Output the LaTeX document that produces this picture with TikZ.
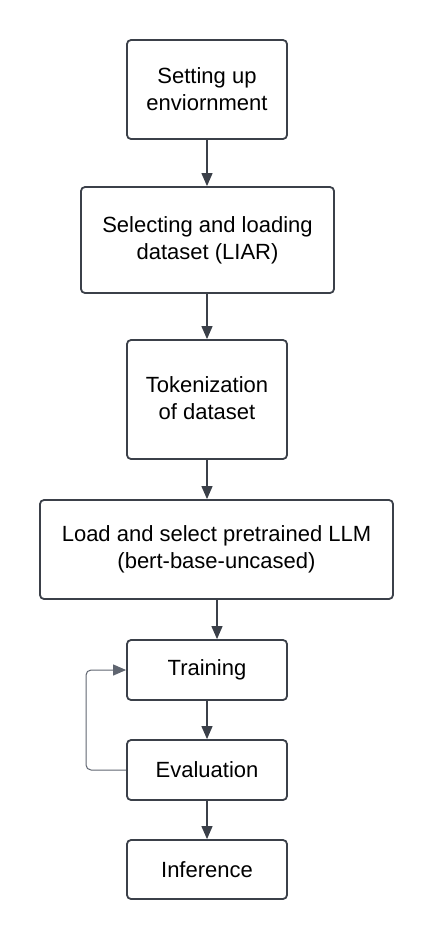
\documentclass[tikz,border=0pt]{standalone}
\usepackage{fontspec}
\setmainfont{Liberation Sans}
\usetikzlibrary{arrows.meta,calc}
\definecolor{edge}{HTML}{3B4049}
\definecolor{loopc}{HTML}{5F6570}
\begin{document}
\begin{tikzpicture}[x=1pt,y=-1pt,
  stepbox/.style={draw=edge,line width=1.8pt,rounded corners=4pt,fill=white,
    align=center,inner sep=0pt,font=\fontsize{22}{27}\selectfont,text=black},
  flow/.style={draw=edge,line width=1.2pt,-{Triangle[length=13pt,width=11pt]}},
  loopline/.style={draw=loopc,line width=1pt,rounded corners=5pt,-{Triangle[length=13pt,width=11pt]}}]
\useasboundingbox (0,0) rectangle (433,940);
\node[stepbox,minimum width=160pt,minimum height=99pt] (b1) at (207,89.5) {Setting up\\enviornment};
\node[stepbox,minimum width=253pt,minimum height=106pt] (b2) at (207.5,240) {Selecting and loading\\dataset (LIAR)};
\node[stepbox,minimum width=160pt,minimum height=119pt] (b3) at (207,399.5) {\raisebox{3pt}{Tokenization}\\\raisebox{3pt}{of dataset}};
\node[stepbox,minimum width=353pt,minimum height=99pt] (b4) at (216.5,549.5) {Load and select pretrained LLM\\(bert-base-uncased)};
\node[stepbox,minimum width=160pt,minimum height=60pt] (b5) at (207,670) {Training};
\node[stepbox,minimum width=160pt,minimum height=60pt] (b6) at (207,770) {Evaluation};
\node[stepbox,minimum width=160pt,minimum height=59pt] (b7) at (207,869.5) {Inference};
\coordinate (a4) at (217,0);
\draw[flow] (b1.south) -- (b2.north -| b1.south);
\draw[flow] (b2.south -| b1.south) -- (b3.north);
\draw[flow] (b3.south) -- (b4.north -| b3.south);
\draw[flow] (b4.south -| a4) -- (b5.north -| a4);
\draw[flow] (b5.south) -- (b6.north);
\draw[flow] (b6.south) -- (b7.north);
\coordinate (lx) at (86,0);
\draw[loopline] (b6.west) -- (b6.west -| lx) -- (b5.west -| lx) -- (b5.west);
\end{tikzpicture}
\end{document}
